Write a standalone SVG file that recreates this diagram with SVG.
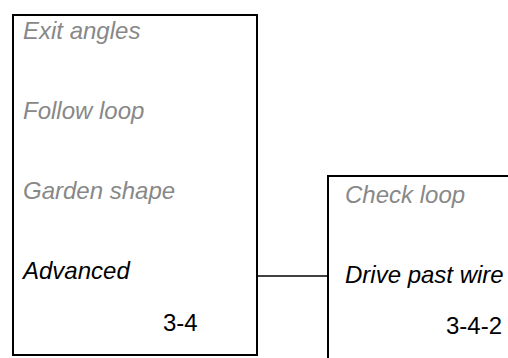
<svg xmlns="http://www.w3.org/2000/svg" width="508" height="358" viewBox="0 0 508 358">
<style>
.box{fill:#fff;stroke:#000;stroke-width:2}
.t{font-family:"Liberation Sans",Arial,sans-serif;font-size:24px;font-style:italic}
.g{fill:#888}
.k{fill:#000}
.n{font-family:"Liberation Sans",Arial,sans-serif;font-size:24px;fill:#000}
.c{stroke:#000;stroke-width:1.5;fill:none}
</style>
<rect width="508" height="358" fill="#fff"/>
<g id="connectors">
<line class="c" x1="257" y1="276" x2="328" y2="276"/>
</g>
<g id="node-3-4">
<rect class="box" x="13" y="15" width="244" height="340"/>
<text class="t g" x="23" y="39">Exit angles</text>
<text class="t g" x="23" y="119">Follow loop</text>
<text class="t g" x="23" y="199">Garden shape</text>
<text class="t k" x="23" y="279">Advanced</text>
<text class="n" x="163" y="331">3-4</text>
</g>
<g id="node-3-4-2">
<rect class="box" x="328" y="176" width="200" height="200"/>
<text class="t g" x="345" y="203">Check loop</text>
<text class="t k" x="345" y="283">Drive past wire</text>
<text class="n" x="446" y="334">3-4-2</text>
</g>
</svg>
